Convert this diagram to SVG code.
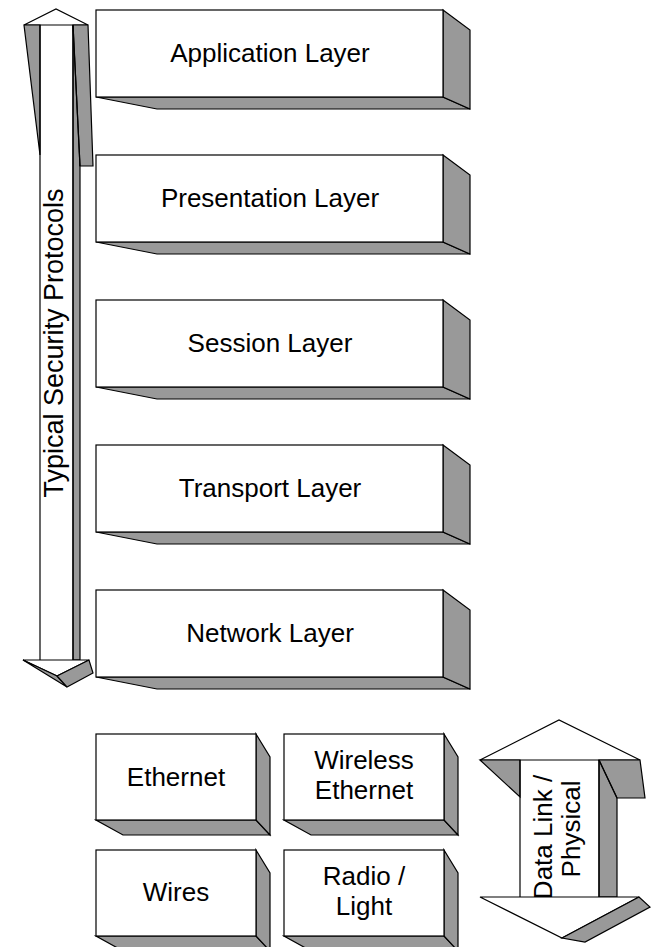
<svg xmlns="http://www.w3.org/2000/svg" width="652" height="947" viewBox="0 0 652 947">
  <style>
    .face { fill: #ffffff; stroke: #000000; stroke-width: 1.2; stroke-linejoin: miter; }
    .shade { fill: #999999; stroke: #000000; stroke-width: 1.2; stroke-linejoin: miter; }
    .line { fill: none; stroke: #000000; stroke-width: 1.2; }
    .label { font-family: "Liberation Sans", Arial, sans-serif; font-size: 26px; fill: #000000; text-anchor: middle; }
    .vlabel { font-size: 27px; }
  </style>
  <defs>
    <!-- layer block: front face 347x87 with side and bottom bevels -->
    <g id="layerBlock">
      <polygon class="shade" points="0,87 347,87 374,99 61,99"/>
      <polygon class="shade" points="347,0 374,20 374,99 347,87"/>
      <rect class="face" x="0" y="0" width="347" height="87"/>
    </g>
    <!-- small medium block: front face 160x86 -->
    <g id="smallBlock">
      <polygon class="shade" points="0,86 160,86 174,101 27,101"/>
      <polygon class="shade" points="160,0 174,23 174,101 160,86"/>
      <rect class="face" x="0" y="0" width="160" height="86"/>
    </g>
  </defs>

  <!-- left double arrow: Typical Security Protocols -->
  <g id="security-arrow">
    <rect x="40" y="25" width="33" height="635" fill="#ffffff"/>
    <rect class="shade" x="73" y="25" width="7" height="635"/>
    <polygon class="face" points="24,25 56,9 88,25"/>
    <polygon class="shade" points="24,25 40,25 40,155"/>
    <polygon class="shade" points="73,25 88,25 93,166 80,166"/>
    <line class="line" x1="73" y1="25" x2="80" y2="166"/>
    <line class="line" x1="40" y1="25" x2="40" y2="660"/>
    <line class="line" x1="73" y1="25" x2="73" y2="660"/>
    <polygon class="face" points="23,660 40,660 73,660 89,660 57,676"/>
    <polygon class="shade" points="23,660 57,676 67,687"/>
    <polygon class="shade" points="57,676 89,660 93,673 67,687"/>
    <text class="label vlabel" transform="translate(63,343) rotate(-90)">Typical Security Protocols</text>
  </g>

  <g id="application-layer">
    <use href="#layerBlock" x="96" y="10"/>
    <text class="label" x="270" y="62">Application Layer</text>
  </g>
  <g id="presentation-layer">
    <use href="#layerBlock" x="96" y="155"/>
    <text class="label" x="270" y="207">Presentation Layer</text>
  </g>
  <g id="session-layer">
    <use href="#layerBlock" x="96" y="300"/>
    <text class="label" x="270" y="352">Session Layer</text>
  </g>
  <g id="transport-layer">
    <use href="#layerBlock" x="96" y="445"/>
    <text class="label" x="270" y="497">Transport Layer</text>
  </g>
  <g id="network-layer">
    <use href="#layerBlock" x="96" y="590"/>
    <text class="label" x="270" y="642">Network Layer</text>
  </g>

  <g id="ethernet">
    <use href="#smallBlock" x="96" y="734"/>
    <text class="label" x="176" y="786">Ethernet</text>
  </g>
  <g id="wireless-ethernet">
    <use href="#smallBlock" x="284" y="734"/>
    <text class="label" x="364" y="769">Wireless</text>
    <text class="label" x="364" y="799">Ethernet</text>
  </g>
  <g id="wires">
    <use href="#smallBlock" x="96" y="850"/>
    <text class="label" x="176" y="901">Wires</text>
  </g>
  <g id="radio-light">
    <use href="#smallBlock" x="284" y="850"/>
    <text class="label" x="364" y="885">Radio /</text>
    <text class="label" x="364" y="915">Light</text>
  </g>

  <!-- right double arrow: Data Link / Physical -->
  <g id="datalink-arrow">
    <rect x="520" y="760" width="79" height="137" fill="#ffffff"/>
    <rect class="shade" x="599" y="760" width="18" height="137"/>
    <polygon class="face" points="480,760 559,720 640,760"/>
    <polygon class="shade" points="480,760 520,760 520,797"/>
    <polygon class="shade" points="599,760 640,760 645,798 617,798"/>
    <line class="line" x1="599" y1="760" x2="617" y2="798"/>
    <line class="line" x1="520" y1="760" x2="520" y2="897"/>
    <line class="line" x1="599" y1="760" x2="599" y2="897"/>
    <polygon class="face" points="480,897 520,897 599,897 639,897 562,938"/>
    <polygon class="shade" points="562,938 639,897 650,907 585,942"/>
    <text class="label" transform="translate(552,837) rotate(-90)">Data Link /</text>
    <text class="label" transform="translate(580,829) rotate(-90)">Physical</text>
  </g>
</svg>
